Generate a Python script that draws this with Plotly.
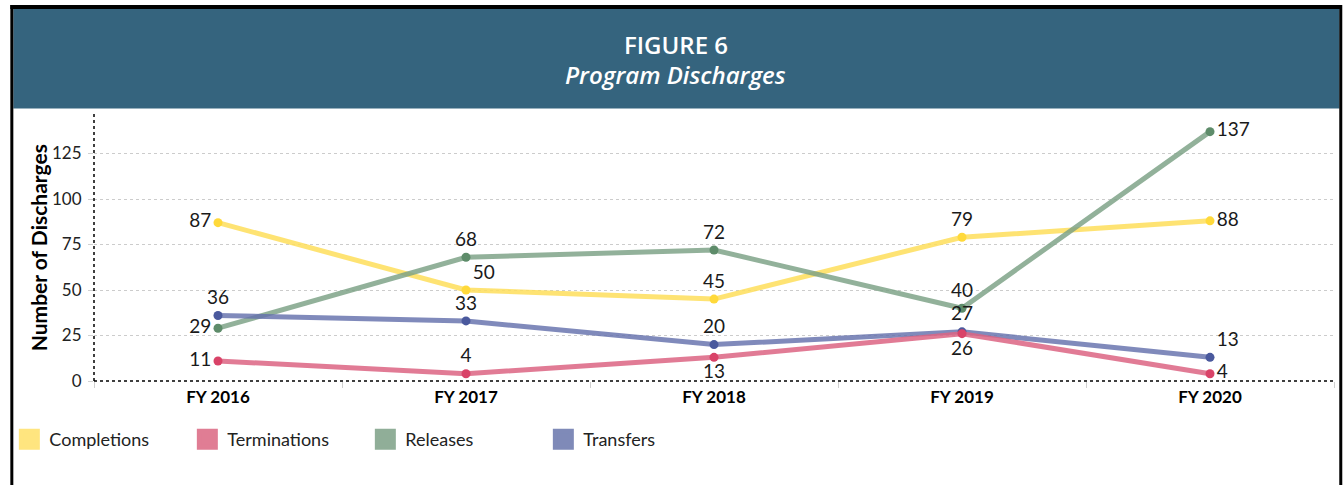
import plotly.graph_objects as go

# ---- data ----
years = ["FY 2016", "FY 2017", "FY 2018", "FY 2019", "FY 2020"]
completions = [87, 50, 45, 79, 88]
terminations = [11, 4, 13, 26, 4]
releases = [29, 68, 72, 40, 137]
transfers = [36, 33, 20, 27, 13]
y_ticks = [0, 25, 50, 75, 100, 125]

# ---- geometry helpers (pixel -> paper) ----
W, H = 1343, 485
ML, MR, MT, MB = 89, 9, 113, 104
PW, PH = W - ML - MR, H - MT - MB
def px(x):
    return (x - ML) / PW
def py(y):
    return (H - MB - y) / PH

FONT = "Lato"
LABEL_COLOR = "#1a1a1a"

series = [
    dict(name="Completions", y=completions, line="rgba(254,222,90,0.85)", marker="#FFD93A",
         legend="#FFE57F",
         pos=["middle left", "top right", "top center", "top center", "middle right"]),
    dict(name="Releases", y=releases, line="rgba(122,160,132,0.82)", marker="#5E8C6A",
         legend="#90AE98",
         pos=["middle left", "top center", "top center", "top center", "middle right"]),
    dict(name="Transfers", y=transfers, line="rgba(100,112,172,0.82)", marker="#4A599D",
         legend="#7F8AB8",
         pos=["top center", "top center", "top center", "top center", "top right"]),
    dict(name="Terminations", y=terminations, line="rgba(220,100,130,0.85)", marker="#D94368",
         legend="#E07D94",
         pos=["middle left", "top center", "bottom center", "bottom center", "middle right"]),
]

fig = go.Figure()
for s in series:
    fig.add_trace(go.Scatter(
        x=years, y=s["y"], mode="lines+markers+text",
        line=dict(color=s["line"], width=5),
        marker=dict(color=s["marker"], size=9, line=dict(width=0)),
        text=[str(v) for v in s["y"]], textposition=s["pos"],
        textfont=dict(family=FONT, size=19, color=LABEL_COLOR),
        showlegend=False, hoverinfo="skip", cliponaxis=False,
    ))

legend_order = ["Completions", "Terminations", "Releases", "Transfers"]
for nm in legend_order:
    s = next(t for t in series if t["name"] == nm)
    fig.add_trace(go.Scatter(
        x=[None], y=[None], mode="markers", name=nm,
        marker=dict(symbol="square", size=16, color=s["legend"],
                    line=dict(color=s["legend"], width=5)),
        showlegend=True,
    ))

shapes = [
    # header band
    dict(type="rect", xref="paper", yref="paper", x0=px(8), x1=px(1339.5), y0=py(108.5), y1=py(9),
         fillcolor="#35647E", line=dict(width=0), layer="below"),
    # outer frame
    dict(type="line", xref="paper", yref="paper", x0=px(6.5), x1=px(6.5), y0=py(5), y1=py(486),
         line=dict(color="black", width=3)),
    dict(type="line", xref="paper", yref="paper", x0=px(5), x1=px(1342), y0=py(7), y1=py(7),
         line=dict(color="black", width=4)),
    dict(type="line", xref="paper", yref="paper", x0=px(1340.8), x1=px(1340.8), y0=py(5), y1=py(486),
         line=dict(color="black", width=3)),
    # dotted axis lines
    dict(type="line", xref="paper", yref="paper", x0=0, x1=1, y0=0, y1=0,
         line=dict(color="black", width=1.5, dash="dot")),
    dict(type="line", xref="paper", yref="paper", x0=0, x1=0, y0=0, y1=1,
         line=dict(color="black", width=1.5, dash="dot")),
]

annotations = [
    dict(text="FIGURE 6", xref="paper", yref="paper", x=px(673), y=py(45),
         xanchor="center", yanchor="middle", showarrow=False,
         font=dict(family="Open Sans", size=24, color="white", weight=600)),
    dict(text="<i>Program Discharges</i>", xref="paper", yref="paper", x=px(673), y=py(75),
         xanchor="center", yanchor="middle", showarrow=False,
         font=dict(family="Open Sans", size=24, color="white", weight=600)),
    dict(text="<b>Number of Discharges</b>", xref="paper", yref="paper", x=px(33), y=py(248),
         xanchor="center", yanchor="middle", showarrow=False, textangle=-90,
         font=dict(family=FONT, size=21, color="black")),
]

fig.update_layout(
    width=W, height=H,
    margin=dict(l=ML, r=MR, t=MT, b=MB),
    paper_bgcolor="white", plot_bgcolor="white",
    shapes=shapes, annotations=annotations,
    font=dict(family=FONT, color="#222"),
    showlegend=True,
    legend=dict(orientation="h", x=px(4), y=py(421), xanchor="left", yanchor="top",
                font=dict(family=FONT, size=18, color="#222"),
                entrywidth=133, entrywidthmode="pixels", traceorder="normal",
                bgcolor="rgba(0,0,0,0)"),
    xaxis=dict(type="category", categoryorder="array", categoryarray=years,
               range=[-0.5, 4.5], showgrid=False, zeroline=False, showline=False,
               tickson="boundaries", ticks="outside", ticklen=6, tickcolor="#d0d0d0",
               ticklabelstandoff=4,
               tickfont=dict(family=FONT, size=17, color="black", weight="bold")),
    yaxis=dict(range=[0, PH / 1.82], tickvals=y_ticks, showgrid=True,
               gridcolor="#cccccc", griddash="dot", gridwidth=1, zeroline=False,
               showline=False, ticks="outside", ticklen=5, tickcolor="#d0d0d0",
               ticklabelstandoff=3,
               tickfont=dict(family=FONT, size=17, color="#222")),
)

fig.write_html(
    "out.html",
    config={"displayModeBar": False},
    post_script="document.body.style.margin='0';document.body.style.overflow='hidden';",
)
